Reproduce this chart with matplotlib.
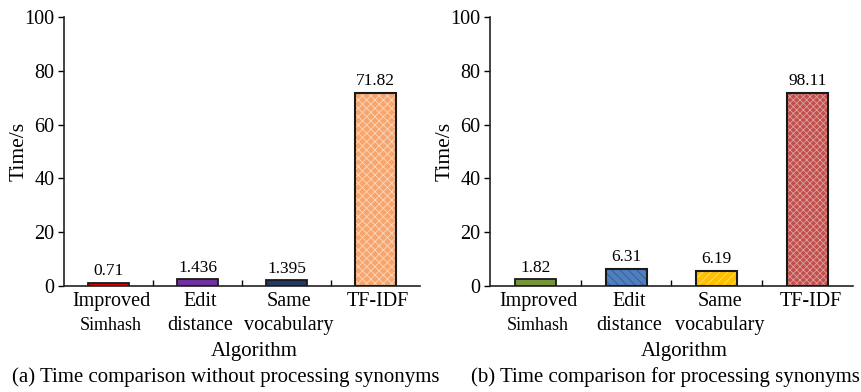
import matplotlib
matplotlib.use("Agg")
import matplotlib.pyplot as plt

plt.rcParams['font.family'] = ['Liberation Serif', 'DejaVu Serif']
plt.rcParams['hatch.linewidth'] = 0.6

categories_line1 = ["Improved", "Edit", "Same", "TF-IDF"]
categories_line2 = ["Simhash", "distance", "vocabulary", ""]

# bar heights as drawn, and the printed value labels
left_values = [1.2, 2.6, 2.2, 71.8]
left_labels = ["0.71", "1.436", "1.395", "71.82"]

right_values = [2.6, 6.5, 5.7, 71.8]
right_labels = ["1.82", "6.31", "6.19", "98.11"]

left_faces = ["#e00000", "#7030a0", "#1f3864", "#f7a56e"]
left_hatches = [None, None, None, "xxxx"]
left_hatch_colors = [None, None, None, "#fcd9bd"]

right_faces = ["#77933c", "#4f7fbf", "#ffc000", "#c0504d"]
right_hatches = [None, "\\\\\\\\", "////", "xxxxx"]
right_hatch_colors = [None, "#345a8c", "#ffe27a", "#e0a09e"]

captions = ["(a) Time comparison without processing synonyms",
            "(b) Time comparison for processing synonyms"]

W, H = 862, 392
fig = plt.figure(figsize=(W / 100, H / 100), dpi=100)

def draw(ax_rect, values, labels, faces, hatches, hcolors):
    ax = fig.add_axes(ax_rect)
    x = list(range(len(values)))
    for i, v in enumerate(values):
        if hatches[i]:
            ax.bar(i, v, width=0.45, color=faces[i], hatch=hatches[i],
                   edgecolor=hcolors[i], linewidth=0, zorder=2)
            ax.bar(i, v, width=0.45, fill=False, edgecolor="#1a1a1a",
                   linewidth=1.5, zorder=3)
        else:
            ax.bar(i, v, width=0.45, color=faces[i], edgecolor="#1a1a1a",
                   linewidth=1.3, zorder=3)
        ax.annotate(labels[i], (i, v), xytext=(0, 2.5), textcoords="offset points",
                    ha="center", va="bottom", fontsize=12.5)
    ax.set_xlim(-0.5, 3.5)
    ax.set_ylim(0, 100)
    ax.set_yticks([0, 20, 40, 60, 80, 100])
    ax.tick_params(axis="y", labelsize=14.5, length=4, width=1, direction="out", pad=3)
    ax.set_xticks([0.5, 1.5, 2.5])
    ax.set_xticklabels([])
    ax.tick_params(axis="x", length=4, width=1, direction="in")
    for s in ["top", "right"]:
        ax.spines[s].set_visible(False)
    for s in ["left", "bottom"]:
        ax.spines[s].set_linewidth(1.2)
        ax.spines[s].set_color("#222222")
    ax.set_ylabel("Time/s", fontsize=15.5, labelpad=-3)
    tr = ax.get_xaxis_transform()
    for i in x:
        ax.text(i + 0.03, -0.056, categories_line1[i], transform=tr, ha="center",
                va="center", fontsize=14.5)
        ax.text(i + 0.03, -0.145, categories_line2[i], transform=tr, ha="center",
                va="center", fontsize=13 if i == 0 else 14.5)
    ax.text(0.535, -0.245, "Algorithm", transform=ax.transAxes, ha="center",
            va="center", fontsize=15)
    return ax

draw([64 / W, 1 - 286 / H, 356 / W, 269 / H], left_values, left_labels,
     left_faces, left_hatches, left_hatch_colors)
draw([490 / W, 1 - 286 / H, 363 / W, 269 / H], right_values, right_labels,
     right_faces, right_hatches, right_hatch_colors)

fig.text(226 / W, 1 - 377 / H, captions[0], ha="center", va="center", fontsize=15)
fig.text(665 / W, 1 - 377 / H, captions[1], ha="center", va="center", fontsize=15)

fig.savefig("out.png", dpi=100)
